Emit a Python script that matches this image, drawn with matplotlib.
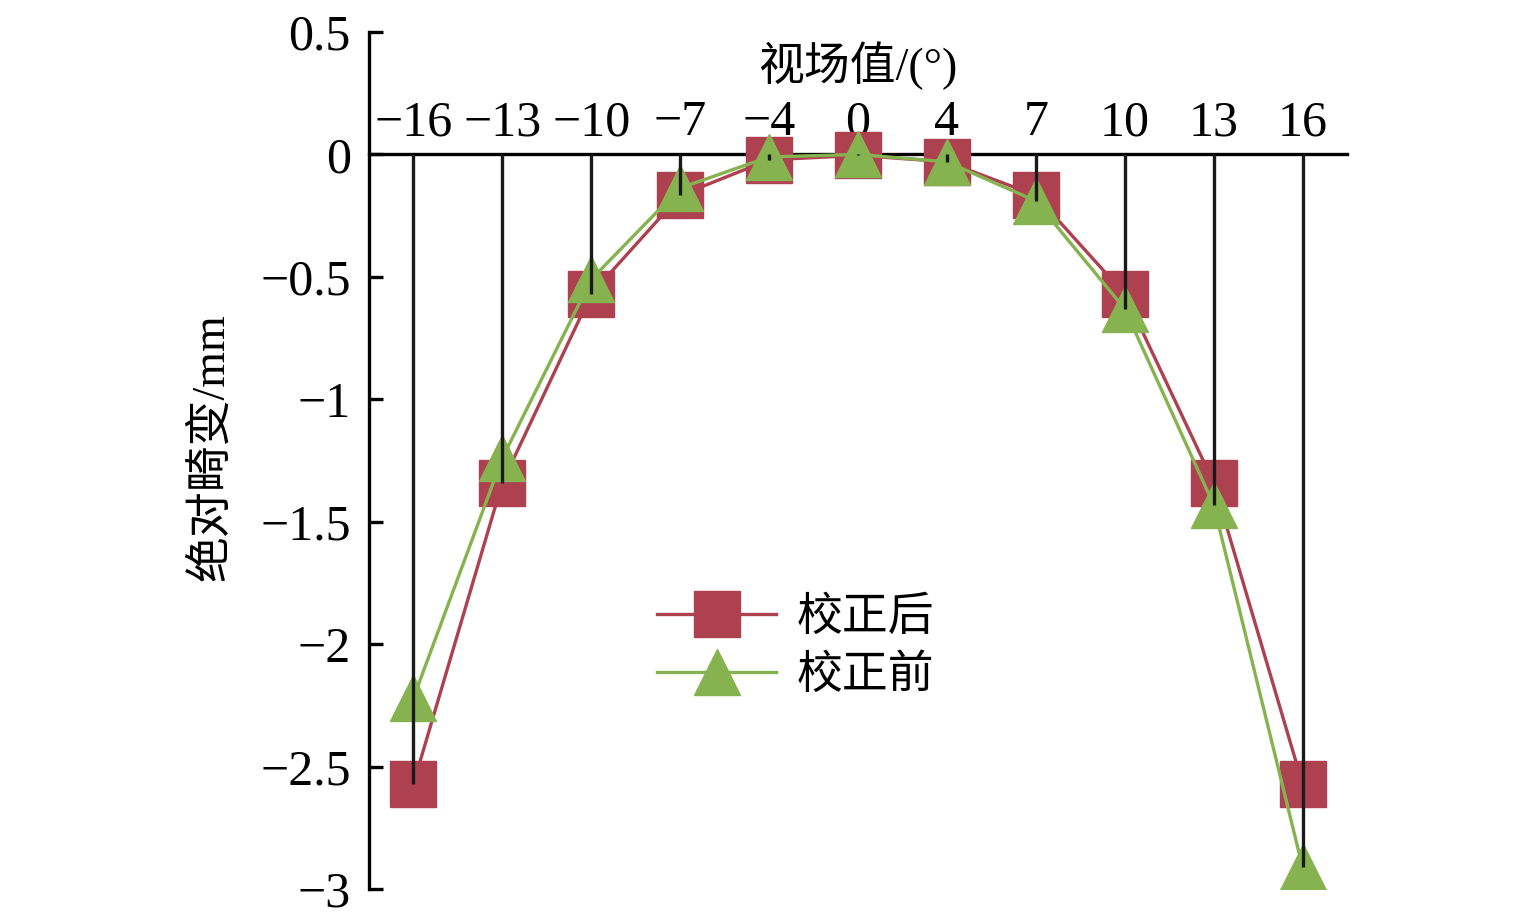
"""
Absolute distortion vs field of view, before and after correction.
"""

import numpy as np
import matplotlib
matplotlib.use("Agg")
import matplotlib.pyplot as plt

plt.rcParams["font.family"] = ["Liberation Serif", "Noto Sans CJK SC"]

fields = ["\u221216", "\u221213", "\u221210", "\u22127", "\u22124", "0",
          "4", "7", "10", "13", "16"]
after = [-2.57, -1.34, -0.57, -0.167, -0.022, -0.004, -0.03, -0.167, -0.57, -1.34, -2.57]
before = [-2.22, -1.24, -0.51, -0.137, -0.01, 0.0, -0.03, -0.19, -0.63, -1.43, -2.91]
y_ticks = [0.5, 0, -0.5, -1, -1.5, -2, -2.5, -3]
y_labels = ["0.5", "0", "\u22120.5", "\u22121", "\u22121.5", "\u22122", "\u22122.5", "\u22123"]

RED = "#AE4150"
GREEN = "#86B350"


def main() -> None:
    fig = plt.figure(figsize=(15.35, 9.23), dpi=100)
    ax = fig.add_axes([0.2404, 0.0368, 0.6371, 0.9285])

    x = np.arange(len(fields))
    ax.plot(x, after, color=RED, lw=2.4, marker="s", ms=33,
            label="校正后", zorder=3)
    ax.plot(x, before, color=GREEN, lw=2.4, marker="^", ms=33,
            label="校正前", zorder=4)

    # drop lines from the axis to the lower of the two points
    low = np.minimum(after, before)
    ax.vlines(x, low, 0, color="#1a1a1a", lw=2.4, zorder=5)

    ax.set_xlim(-0.5, len(fields) - 0.5)
    ax.set_ylim(-3, 0.5)

    ax.spines["right"].set_visible(False)
    ax.spines["bottom"].set_visible(False)
    ax.spines["top"].set_position(("data", 0))
    ax.spines["top"].set_linewidth(2.4)
    ax.spines["left"].set_linewidth(2.4)
    ax.spines["top"].set_zorder(2)

    ax.xaxis.set_ticks_position("top")
    ax.set_xticks(x)
    ax.set_xticklabels(fields)
    ax.tick_params(axis="x", length=0, pad=6, labelsize=36)
    ax.xaxis.set_label_position("top")
    ax.set_xlabel("视场值/(°)", fontsize=33, labelpad=14)

    ax.set_yticks(y_ticks)
    ax.set_yticklabels(y_labels)
    ax.tick_params(axis="y", direction="in", length=10, width=2.4,
                   pad=13, labelsize=36)
    ax.set_ylabel("绝对畸变/mm", fontsize=33)
    ax.yaxis.set_label_coords(-0.139, 0.516)

    ax.legend(loc="upper left", bbox_to_anchor=(0.428, 0.353),
              bbox_transform=fig.transFigure, frameon=False, fontsize=33,
              handlelength=2.6, handletextpad=0.45, labelspacing=0.34,
              borderpad=0, borderaxespad=0)

    fig.savefig("out.png", dpi=100)
    plt.close(fig)


if __name__ == "__main__":
    main()
